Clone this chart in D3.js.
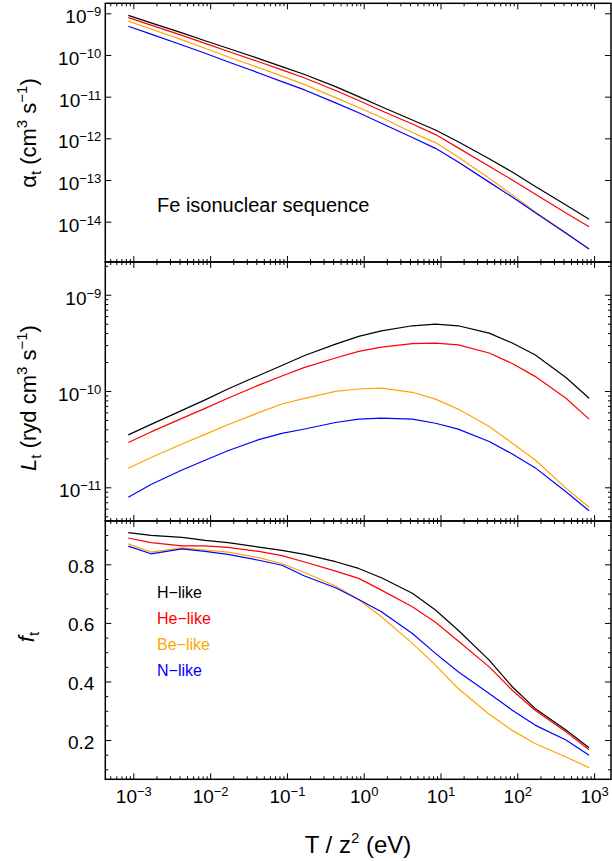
<!DOCTYPE html>
<html>
<head>
<meta charset="utf-8">
<script src="https://cdn.jsdelivr.net/npm/d3@7"></script>
<style>
body { margin: 0; background: #fff; }
svg { display: block; font-family: "Liberation Sans", Arial, Helvetica, sans-serif; }
</style>
</head>
<body>
<div id="chart"></div>
<script>
// temperatures T/z^2 in eV (10 K ... 1e7 K)
var temps = [8.6e-4, 1.7e-3, 4.3e-3, 8.6e-3, 1.7e-2, 4.3e-2, 0.086, 0.17, 0.43, 0.86,
             1.7, 4.3, 8.6, 17, 43, 86, 170, 430, 860];

// total recombination rate coefficient alpha_t
var alphaH  = [8.9e-10, 5.9e-10, 3.4e-10, 2.2e-10, 1.45e-10, 8.2e-11, 5.25e-11, 3.4e-11, 1.74e-11, 1.0e-11,
               5.75e-12, 2.75e-12, 1.58e-12, 8.3e-13, 3.24e-13, 1.55e-13, 7.1e-14, 2.5e-14, 1.15e-14];
var alphaHe = [7.9e-10, 5.2e-10, 2.95e-10, 1.9e-10, 1.23e-10, 6.9e-11, 4.4e-11, 2.8e-11, 1.41e-11, 8.1e-12,
               4.6e-12, 2.2e-12, 1.23e-12, 5.9e-13, 2.14e-13, 1.0e-13, 4.6e-14, 1.62e-14, 7.6e-15];
var alphaBe = [6.5e-10, 4.2e-10, 2.3e-10, 1.45e-10, 9.1e-11, 4.95e-11, 3.1e-11, 1.95e-11, 9.5e-12, 5.5e-12,
               3.16e-12, 1.38e-12, 7.9e-13, 3.55e-13, 1.1e-13, 4.4e-14, 1.74e-14, 5.4e-15, 2.2e-15];
var alphaN  = [4.9e-10, 3.16e-10, 1.74e-10, 1.1e-10, 6.9e-11, 3.7e-11, 2.3e-11, 1.45e-11, 7.1e-12, 4.1e-12,
               2.3e-12, 1.05e-12, 5.75e-13, 2.7e-13, 8.9e-14, 3.9e-14, 1.66e-14, 5.25e-15, 2.2e-15];

// energy loss rate coefficient L_t
var lossH  = [3.5e-11, 4.5e-11, 6.3e-11, 8.1e-11, 1.05e-10, 1.45e-10, 1.84e-10, 2.34e-10, 3.07e-10, 3.69e-10,
              4.22e-10, 4.76e-10, 4.95e-10, 4.76e-10, 3.99e-10, 3.15e-10, 2.38e-10, 1.38e-10, 8.4e-11];
var lossHe = [2.92e-11, 3.76e-11, 5.2e-11, 6.6e-11, 8.4e-11, 1.15e-10, 1.43e-10, 1.76e-10, 2.2e-10, 2.58e-10,
              2.86e-10, 3.1e-10, 3.15e-10, 3.02e-10, 2.48e-10, 1.93e-10, 1.42e-10, 8.4e-11, 5.1e-11];
var lossBe = [1.58e-11, 2.04e-11, 2.82e-11, 3.55e-11, 4.47e-11, 5.96e-11, 7.33e-11, 8.4e-11, 9.9e-11, 1.05e-10,
              1.07e-10, 9.7e-11, 8.24e-11, 6.49e-11, 4.28e-11, 2.87e-11, 1.93e-11, 9.8e-12, 6.2e-12];
var lossN  = [7.9e-12, 1.07e-11, 1.51e-11, 1.91e-11, 2.4e-11, 3.13e-11, 3.63e-11, 4.03e-11, 4.71e-11, 5.1e-11,
              5.22e-11, 5.1e-11, 4.63e-11, 4.02e-11, 2.99e-11, 2.22e-11, 1.6e-11, 9.0e-12, 5.7e-12];

// f_t
var fracH  = [0.908, 0.899, 0.892, 0.882, 0.874, 0.859, 0.848, 0.834, 0.809, 0.786,
              0.754, 0.701, 0.644, 0.575, 0.473, 0.382, 0.308, 0.234, 0.174];
var fracHe = [0.890, 0.874, 0.863, 0.863, 0.858, 0.844, 0.830, 0.808, 0.777, 0.752,
              0.712, 0.655, 0.602, 0.538, 0.450, 0.370, 0.302, 0.228, 0.167];
var fracBe = [0.870, 0.842, 0.856, 0.849, 0.842, 0.823, 0.802, 0.772, 0.726, 0.680,
              0.621, 0.530, 0.456, 0.376, 0.288, 0.233, 0.188, 0.142, 0.106];
var fracN  = [0.862, 0.836, 0.853, 0.844, 0.834, 0.814, 0.797, 0.760, 0.720, 0.680,
              0.638, 0.564, 0.496, 0.433, 0.359, 0.302, 0.251, 0.200, 0.148];

var seriesNames  = ["H\u2212like", "He\u2212like", "Be\u2212like", "N\u2212like"];
var seriesColors = ["#000000", "#ff0000", "#ffa500", "#0000ff"];

var xMajor = [1e-3, 1e-2, 1e-1, 1, 1e1, 1e2, 1e3];
var alphaMajor = [1e-14, 1e-13, 1e-12, 1e-11, 1e-10, 1e-9];
var lossMajor = [1e-11, 1e-10, 1e-9];
var fracMajor = [0.2, 0.4, 0.6, 0.8];

var width = 612, height = 861;
var left = 105.3, right = 611;
var tickFont = 19;

var svg = d3.select("#chart").append("svg")
    .attr("width", width)
    .attr("height", height);

var x = d3.scaleLog()
    .domain([Math.pow(10, -3.365), Math.pow(10, 3.22)])
    .range([left, right]);

// minor ticks for log axes
function logMinors(scale) {
    var dom = scale.domain(), out = [];
    var lo = Math.floor(Math.log10(d3.min(dom))), hi = Math.ceil(Math.log10(d3.max(dom)));
    for (var k = lo; k <= hi; k++) {
        for (var m = 2; m <= 9; m++) {
            var v = m * Math.pow(10, k);
            if (v >= d3.min(dom) && v <= d3.max(dom)) out.push(v);
        }
    }
    return out;
}

function powLabel(sel) {
    sel.each(function(d) {
        var t = d3.select(this);
        var e = Math.round(Math.log10(d));
        t.text(null);
        t.append("tspan").text("10");
        t.append("tspan").attr("font-size", 13).attr("dy", -7)
            .text(String(e).replace("-", "\u2212"));
    });
}

var panels = [
    { top: 3.3, bottom: 262, log: true, domain: [Math.pow(10, -14.967), Math.pow(10, -8.76)],
      major: alphaMajor, minor: [], data: [alphaH, alphaHe, alphaBe, alphaN] },
    { top: 262, bottom: 521, log: true, domain: [Math.pow(10, -11.35), Math.pow(10, -8.66)],
      major: lossMajor, minor: null, data: [lossH, lossHe, lossBe, lossN] },
    { top: 521, bottom: 779.3, log: false, domain: [0.066, 0.948],
      major: fracMajor, minor: d3.range(0.1, 0.95, 0.05).filter(function(v) {
          return fracMajor.every(function(m) { return Math.abs(m - v) > 1e-6; });
      }), data: [fracH, fracHe, fracBe, fracN] }
];

panels.forEach(function(p, pi) {
    var y = (p.log ? d3.scaleLog() : d3.scaleLinear())
        .domain(p.domain).range([p.bottom, p.top]);
    p.y = y;
    var minor = p.minor === null ? logMinors(y) : p.minor;
    var xMinor = logMinors(x);
    var g = svg.append("g");

    function addAxis(axis, tx, ty, vals, size, fmt) {
        var a = g.append("g")
            .attr("transform", "translate(" + tx + "," + ty + ")")
            .call(axis.tickValues(vals).tickSizeInner(-size).tickSizeOuter(0)
                .tickPadding(fmt ? (axis === null ? 0 : 0) : 0)
                .tickFormat(fmt ? null : function() { return ""; }));
        a.select(".domain").remove();
        a.selectAll("line").attr("stroke", "#000").attr("stroke-width", 1);
        return a;
    }

    // x ticks top and bottom
    addAxis(d3.axisTop(x), 0, p.top, xMajor, 6, false);
    addAxis(d3.axisTop(x), 0, p.top, xMinor, 3, false);
    var xb = addAxis(d3.axisBottom(x), 0, p.bottom, xMajor, 6, pi === 2);
    addAxis(d3.axisBottom(x), 0, p.bottom, xMinor, 3, false);
    // y ticks left and right
    var yl = addAxis(d3.axisLeft(y), left, 0, p.major, 6, true);
    addAxis(d3.axisLeft(y), left, 0, minor, 3, false);
    addAxis(d3.axisRight(y), right, 0, p.major, 6, false);
    addAxis(d3.axisRight(y), right, 0, minor, 3, false);

    yl.attr("font-size", tickFont).attr("font-family", null);
    if (p.log) {
        yl.selectAll("text").attr("x", -4).attr("dy", "0.5em").call(powLabel);
    } else {
        yl.selectAll("text").attr("x", -11).attr("dy", "0.42em")
            .text(function(d) { return d3.format(".1f")(d); });
    }
    if (pi === 2) {
        xb.attr("font-size", tickFont).attr("font-family", null);
        xb.selectAll("text").attr("y", 10).attr("dy", "0.71em").call(powLabel);
    }

    // curves
    var line = d3.line()
        .x(function(d, i) { return x(temps[i]); })
        .y(function(d) { return y(d); });
    p.data.forEach(function(vals, si) {
        g.append("path")
            .datum(vals)
            .attr("fill", "none")
            .attr("stroke", seriesColors[si])
            .attr("stroke-width", 1.2)
            .attr("stroke-linejoin", "round")
            .attr("d", line);
    });

    // frame
    g.append("rect")
        .attr("x", left).attr("y", p.top)
        .attr("width", right - left).attr("height", p.bottom - p.top)
        .attr("fill", "none").attr("stroke", "#000").attr("stroke-width", 1.5);
});

// y axis titles
function yTitle(cx, cy, parts) {
    var t = svg.append("text")
        .attr("transform", "translate(" + cx + "," + cy + ") rotate(-90)")
        .attr("text-anchor", "middle")
        .attr("font-size", 22);
    parts.forEach(function(pt) {
        var s = t.append("tspan").text(pt.t);
        if (pt.dy) s.attr("dy", pt.dy);
        if (pt.fs) s.attr("font-size", pt.fs);
        if (pt.it) s.attr("font-style", "italic");
    });
}

yTitle(36, 133, [
    { t: "\u03b1" }, { t: "t", fs: 15, dy: 5 }, { t: " (cm", dy: -5 },
    { t: "3", fs: 15, dy: -9 }, { t: " s", dy: 9 }, { t: "\u22121", fs: 15, dy: -9 }, { t: ")", dy: 9 }
]);
yTitle(36, 398, [
    { t: "L", it: true }, { t: "t", fs: 15, dy: 5 }, { t: " (ryd cm", dy: -5 },
    { t: "3", fs: 15, dy: -9 }, { t: " s", dy: 9 }, { t: "\u22121", fs: 15, dy: -9 }, { t: ")", dy: 9 }
]);
yTitle(34, 637, [
    { t: "f", it: true }, { t: "t", fs: 15, dy: 5 }
]);

// x axis title
var xt = svg.append("text")
    .attr("x", 358).attr("y", 853)
    .attr("text-anchor", "middle")
    .attr("font-size", 24);
xt.append("tspan").text("T / z");
xt.append("tspan").attr("font-size", 15).attr("dy", -10).text("2");
xt.append("tspan").attr("dy", 10).text(" (eV)");

// panel annotation
svg.append("text")
    .attr("x", 157).attr("y", 212)
    .attr("font-size", 20)
    .text("Fe isonuclear sequence");

// legend
svg.selectAll(".legend")
    .data(seriesNames)
    .enter().append("text")
    .attr("class", "legend")
    .attr("x", 157)
    .attr("y", function(d, i) { return 597.7 + i * 26; })
    .attr("font-size", 16)
    .attr("fill", function(d, i) { return seriesColors[i]; })
    .text(function(d) { return d; });
</script>
</body>
</html>
